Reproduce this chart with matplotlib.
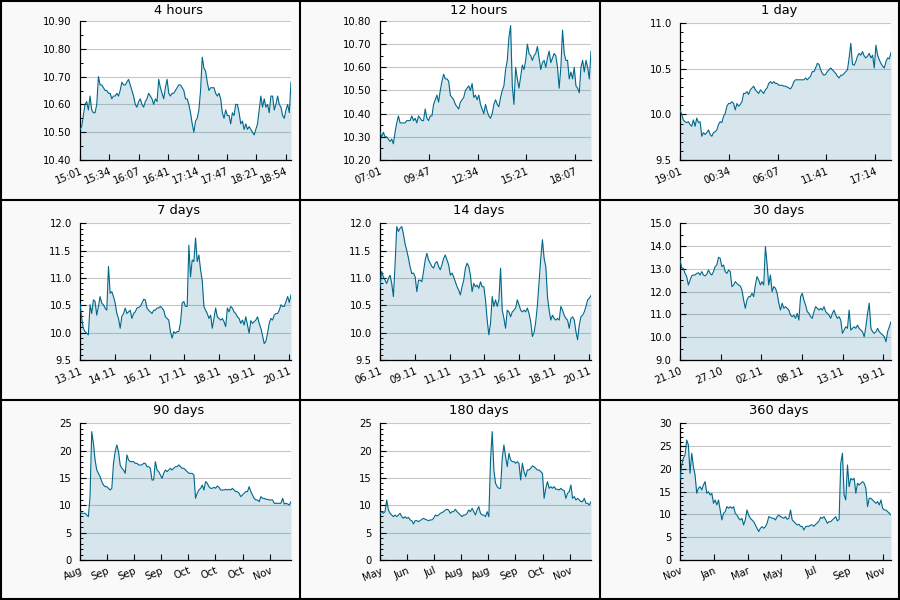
import numpy as np
import matplotlib
matplotlib.use('Agg')
import matplotlib.pyplot as plt
from matplotlib.lines import Line2D
from matplotlib.ticker import MultipleLocator, FormatStrFormatter

# price history, evenly sampled over each window
values_4h = [
    10.51, 10.52, 10.56, 10.60, 10.61, 10.58, 10.63, 10.58, 10.57, 10.57, 10.60, 10.70, 10.67, 10.67,
    10.66, 10.65, 10.65, 10.64, 10.64, 10.62, 10.63, 10.63, 10.64, 10.63, 10.65, 10.68, 10.67, 10.67,
    10.68, 10.69, 10.67, 10.65, 10.63, 10.60, 10.59, 10.61, 10.62, 10.60, 10.59, 10.61, 10.62, 10.64,
    10.63, 10.62, 10.60, 10.62, 10.61, 10.69, 10.66, 10.64, 10.62, 10.66, 10.69, 10.64, 10.63, 10.64,
    10.64, 10.65, 10.66, 10.67, 10.67, 10.66, 10.65, 10.62, 10.62, 10.60, 10.57, 10.53, 10.50, 10.54,
    10.55, 10.58, 10.65, 10.77, 10.73, 10.72, 10.68, 10.65, 10.66, 10.66, 10.66, 10.64, 10.63, 10.64,
    10.62, 10.57, 10.55, 10.58, 10.56, 10.56, 10.53, 10.57, 10.56, 10.60, 10.60, 10.57, 10.53, 10.54,
    10.51, 10.53, 10.51, 10.52, 10.51, 10.50, 10.49, 10.51, 10.53, 10.58, 10.63, 10.59, 10.62, 10.59,
    10.60, 10.57, 10.63, 10.63, 10.58, 10.60, 10.63, 10.60, 10.59, 10.56, 10.55, 10.58, 10.60, 10.57,
    10.68]
values_12h = [
    10.32, 10.30, 10.32, 10.30, 10.30, 10.29, 10.28, 10.29, 10.27, 10.32, 10.36, 10.39, 10.36, 10.36,
    10.36, 10.36, 10.37, 10.37, 10.37, 10.39, 10.37, 10.38, 10.36, 10.39, 10.38, 10.37, 10.37, 10.42,
    10.38, 10.37, 10.39, 10.39, 10.44, 10.46, 10.48, 10.45, 10.50, 10.54, 10.57, 10.55, 10.55, 10.54,
    10.48, 10.47, 10.46, 10.44, 10.43, 10.42, 10.45, 10.46, 10.47, 10.50, 10.51, 10.52, 10.50, 10.53,
    10.47, 10.48, 10.46, 10.48, 10.44, 10.42, 10.40, 10.44, 10.41, 10.39, 10.38, 10.40, 10.44, 10.46,
    10.44, 10.43, 10.47, 10.50, 10.52, 10.59, 10.63, 10.73, 10.78, 10.52, 10.44, 10.60, 10.55, 10.51,
    10.56, 10.61, 10.59, 10.63, 10.70, 10.66, 10.65, 10.63, 10.65, 10.66, 10.69, 10.64, 10.59, 10.62,
    10.63, 10.60, 10.64, 10.67, 10.62, 10.64, 10.66, 10.65, 10.60, 10.51, 10.60, 10.76, 10.66, 10.63,
    10.63, 10.55, 10.58, 10.55, 10.60, 10.52, 10.51, 10.49, 10.60, 10.63, 10.58, 10.63, 10.60, 10.55,
    10.67]
values_1d = [
    10.05, 10.00, 9.94, 9.92, 9.91, 9.92, 9.89, 9.87, 9.94, 9.87, 9.96, 9.91, 9.92, 9.76,
    9.80, 9.78, 9.80, 9.83, 9.78, 9.76, 9.80, 9.81, 9.83, 9.89, 9.92, 9.91, 9.98, 10.01,
    10.09, 10.12, 10.12, 10.14, 10.12, 10.05, 10.12, 10.09, 10.11, 10.14, 10.23, 10.23, 10.25, 10.22,
    10.27, 10.29, 10.31, 10.27, 10.25, 10.23, 10.27, 10.25, 10.23, 10.27, 10.29, 10.34, 10.36, 10.34,
    10.36, 10.34, 10.34, 10.32, 10.32, 10.32, 10.31, 10.31, 10.30, 10.29, 10.28, 10.31, 10.36, 10.38,
    10.38, 10.38, 10.38, 10.38, 10.38, 10.40, 10.38, 10.40, 10.42, 10.47, 10.47, 10.51, 10.56, 10.55,
    10.49, 10.45, 10.43, 10.44, 10.47, 10.49, 10.51, 10.49, 10.47, 10.45, 10.42, 10.40, 10.43, 10.43,
    10.45, 10.47, 10.49, 10.62, 10.78, 10.55, 10.54, 10.58, 10.64, 10.67, 10.65, 10.69, 10.64, 10.62,
    10.64, 10.67, 10.62, 10.65, 10.51, 10.76, 10.65, 10.60, 10.56, 10.53, 10.51, 10.58, 10.62, 10.61,
    10.68]
values_7d = [
    10.54, 10.26, 10.08, 10.02, 9.99, 9.96, 10.51, 10.35, 10.60, 10.57, 10.32, 10.48, 10.66, 10.54,
    10.51, 10.45, 10.41, 11.21, 10.72, 10.75, 10.66, 10.54, 10.35, 10.26, 10.08, 10.30, 10.35, 10.45,
    10.35, 10.38, 10.41, 10.26, 10.35, 10.38, 10.45, 10.46, 10.48, 10.54, 10.61, 10.60, 10.45, 10.41,
    10.38, 10.35, 10.41, 10.41, 10.45, 10.45, 10.48, 10.45, 10.41, 10.29, 10.26, 10.23, 10.02, 9.90,
    10.02, 9.99, 10.02, 10.02, 10.18, 10.54, 10.57, 10.48, 10.48, 11.60, 11.02, 11.33, 11.30, 11.73,
    11.30, 11.42, 11.15, 10.95, 10.48, 10.41, 10.35, 10.26, 10.32, 10.08, 10.26, 10.45, 10.29, 10.26,
    10.23, 10.26, 10.20, 10.11, 10.45, 10.38, 10.48, 10.45, 10.38, 10.35, 10.29, 10.26, 10.17, 10.23,
    10.14, 10.29, 10.14, 9.99, 10.22, 10.17, 10.20, 10.23, 10.29, 10.17, 10.08, 9.95, 9.80, 9.84,
    9.99, 10.17, 10.26, 10.23, 10.32, 10.35, 10.35, 10.41, 10.51, 10.48, 10.48, 10.57, 10.66, 10.55,
    10.69]
values_14d = [
    10.84, 11.12, 11.02, 10.96, 10.90, 10.99, 11.05, 10.90, 10.66, 11.24, 11.94, 11.85, 11.91, 11.94,
    11.80, 11.62, 11.50, 11.36, 11.20, 11.08, 11.09, 11.02, 10.75, 10.96, 10.96, 10.93, 11.12, 11.33,
    11.45, 11.33, 11.27, 11.21, 11.18, 11.27, 11.30, 11.21, 11.15, 11.24, 11.36, 11.42, 11.33, 11.24,
    11.05, 11.09, 11.02, 10.93, 10.84, 10.78, 10.69, 10.84, 10.96, 11.18, 11.27, 11.21, 11.05, 10.75,
    10.90, 10.84, 10.87, 10.81, 10.93, 10.84, 10.84, 10.60, 10.23, 9.96, 10.17, 10.66, 10.48, 10.60,
    10.48, 10.60, 11.18, 10.41, 10.26, 10.08, 10.41, 10.38, 10.29, 10.38, 10.41, 10.45, 10.60, 10.51,
    10.41, 10.38, 10.41, 10.38, 10.45, 10.35, 10.20, 9.93, 10.00, 10.20, 10.50, 10.93, 11.36, 11.70,
    11.36, 11.21, 10.66, 10.41, 10.23, 10.32, 10.26, 10.23, 10.26, 10.23, 10.48, 10.41, 10.32, 10.26,
    10.23, 10.08, 10.26, 10.29, 10.23, 10.02, 9.87, 10.14, 10.29, 10.32, 10.38, 10.48, 10.60, 10.63,
    10.68]
values_30d = [
    13.39, 13.05, 13.02, 12.80, 12.66, 12.29, 12.50, 12.70, 12.73, 12.73, 12.80, 12.83, 12.73, 12.88,
    12.73, 12.69, 12.77, 12.95, 12.80, 12.73, 12.88, 13.10, 13.17, 13.51, 13.46, 13.10, 13.17, 12.88,
    12.80, 12.95, 12.88, 12.22, 12.29, 12.44, 12.36, 12.29, 12.25, 12.07, 11.63, 11.27, 11.63, 11.78,
    11.78, 11.93, 11.78, 12.29, 12.66, 12.51, 12.29, 12.44, 12.29, 13.98, 13.20, 12.29, 12.73, 12.00,
    12.22, 12.15, 11.93, 11.49, 11.19, 11.49, 11.27, 11.34, 11.27, 11.19, 10.97, 10.90, 10.97, 10.83,
    11.05, 10.75, 11.78, 11.93, 11.63, 11.41, 11.12, 11.05, 10.90, 10.83, 11.12, 11.34, 11.27, 11.19,
    11.27, 11.19, 11.34, 11.12, 11.05, 10.97, 10.83, 11.05, 11.19, 10.97, 10.83, 10.90, 10.75, 10.17,
    10.31, 10.46, 10.39, 11.19, 10.31, 10.39, 10.46, 10.39, 10.53, 10.39, 10.31, 10.24, 10.02, 10.46,
    11.05, 11.49, 10.39, 10.24, 10.17, 10.24, 10.39, 10.24, 10.17, 10.10, 10.02, 9.80, 10.25, 10.45,
    10.68]
values_90d = [
    8.84, 8.54, 8.54, 8.54, 8.23, 7.93, 11.59, 23.48, 21.34, 18.29, 16.46, 15.85, 15.24, 14.33,
    13.72, 13.41, 13.41, 13.11, 12.80, 13.11, 17.68, 19.82, 21.04, 19.82, 17.38, 16.77, 16.46, 15.85,
    19.21, 18.29, 17.99, 17.99, 17.99, 17.68, 17.68, 17.38, 17.38, 17.38, 17.68, 17.68, 17.07, 17.07,
    16.77, 14.63, 14.63, 17.99, 16.46, 16.16, 15.55, 14.94, 15.85, 16.46, 16.16, 16.46, 16.77, 16.46,
    16.77, 17.07, 17.07, 17.38, 17.07, 16.77, 16.77, 16.46, 16.16, 15.85, 15.85, 15.85, 15.55, 11.28,
    12.20, 12.80, 13.11, 13.72, 12.80, 14.33, 14.02, 13.41, 13.11, 13.11, 13.29, 13.11, 13.54, 13.29,
    12.80, 12.80, 12.80, 12.93, 12.80, 12.93, 12.80, 13.11, 12.80, 12.50, 12.50, 12.20, 11.59, 11.89,
    12.20, 12.50, 12.50, 13.41, 12.50, 11.89, 11.28, 10.98, 10.98, 10.67, 11.59, 11.28, 11.28, 11.10,
    11.10, 10.98, 10.98, 10.98, 10.37, 10.37, 10.37, 10.37, 10.37, 11.28, 10.24, 10.37, 10.24, 10.06,
    10.67]
values_180d = [
    8.54, 8.84, 8.54, 8.84, 10.98, 9.15, 8.54, 8.23, 7.93, 8.23, 7.93, 8.23, 8.54, 7.93,
    7.62, 7.93, 7.62, 7.80, 7.32, 7.20, 6.59, 7.20, 7.20, 7.01, 7.20, 7.44, 7.62, 7.44,
    7.32, 7.20, 7.32, 7.32, 7.62, 8.23, 8.05, 8.23, 8.54, 8.66, 8.84, 9.15, 9.27, 9.15,
    8.54, 8.84, 8.84, 9.27, 8.84, 8.54, 8.23, 7.93, 8.23, 8.23, 8.54, 9.15, 8.84, 9.45,
    8.84, 8.23, 9.15, 9.76, 8.54, 8.23, 8.23, 7.93, 8.84, 7.93, 18.29, 23.48, 16.46, 14.02,
    13.41, 13.11, 13.11, 18.60, 21.04, 18.90, 17.07, 19.51, 18.29, 17.99, 17.99, 17.68, 17.99, 17.68,
    14.63, 17.68, 16.16, 15.24, 16.46, 16.46, 16.77, 17.20, 17.07, 16.77, 16.46, 16.46, 16.16, 15.85,
    11.28, 13.11, 14.33, 13.11, 13.41, 13.11, 13.41, 12.93, 12.93, 12.80, 13.11, 12.80, 12.68, 11.28,
    12.20, 12.50, 13.72, 11.28, 11.59, 10.98, 11.28, 10.98, 10.67, 10.67, 11.28, 10.37, 10.37, 10.06,
    10.67]
values_360d = [
    17.56, 20.86, 22.32, 23.05, 26.34, 25.24, 19.03, 23.42, 20.49, 18.66, 14.64, 15.73, 16.10, 15.37,
    16.46, 17.19, 14.64, 15.00, 14.27, 14.64, 12.44, 13.17, 12.08, 13.17, 10.98, 8.79, 10.25, 10.61,
    11.71, 11.35, 11.71, 11.35, 11.71, 10.25, 9.88, 9.15, 8.79, 9.15, 7.69, 8.79, 10.98, 9.88,
    9.15, 8.79, 8.42, 7.69, 6.96, 6.23, 6.96, 7.32, 6.96, 7.32, 8.05, 9.52, 9.37, 9.15,
    9.15, 8.79, 9.52, 9.88, 9.52, 9.37, 9.15, 9.52, 8.93, 9.15, 10.98, 8.79, 8.42, 8.05,
    7.69, 7.83, 7.39, 7.32, 6.59, 7.32, 7.39, 7.39, 7.69, 7.69, 7.39, 7.83, 8.12, 8.57,
    9.37, 9.15, 9.52, 8.79, 8.05, 8.42, 8.42, 8.79, 9.15, 9.52, 8.57, 8.93, 21.22, 23.42,
    14.27, 13.17, 20.86, 16.10, 17.93, 17.56, 17.93, 14.64, 16.83, 16.46, 16.83, 17.19, 16.83, 15.73,
    11.71, 13.54, 13.54, 13.17, 12.81, 12.44, 12.81, 12.08, 13.17, 11.35, 10.98, 10.98, 10.61, 10.25,
    9.88]

series = [values_4h, values_12h, values_1d, values_7d, values_14d,
          values_30d, values_90d, values_180d, values_360d]
titles = ['4 hours', '12 hours', '1 day', '7 days', '14 days', '30 days',
          '90 days', '180 days', '360 days']
span_hours = [4, 12, 24, 168, 336, 720, 2160, 4320, 8640]
tick_step_hours = [0.557, 2.777, 5.554, 27.7, 55.4, 138.8, 277.4, 554.8, 1385]
tick_labels = [
    ['15:01', '15:34', '16:07', '16:41', '17:14', '17:47', '18:21', '18:54'],
    ['07:01', '09:47', '12:34', '15:21', '18:07'],
    ['19:01', '00:34', '06:07', '11:41', '17:14'],
    ['13.11', '14.11', '16.11', '17.11', '18.11', '19.11', '20.11'],
    ['06.11', '09.11', '11.11', '13.11', '16.11', '18.11', '20.11'],
    ['21.10', '27.10', '02.11', '08.11', '13.11', '19.11'],
    ['Aug', 'Sep', 'Sep', 'Sep', 'Oct', 'Oct', 'Oct', 'Nov'],
    ['May', 'Jun', 'Jul', 'Aug', 'Aug', 'Sep', 'Oct', 'Nov'],
    ['Nov', 'Jan', 'Mar', 'May', 'Jul', 'Sep', 'Nov'],
]
y_limits = [(10.4, 10.9), (10.2, 10.8), (9.5, 11.0), (9.5, 12.0), (9.5, 12.0),
            (9.0, 15.0), (0, 25), (0, 25), (0, 30)]
y_major = [0.1, 0.1, 0.5, 0.5, 0.5, 1.0, 5, 5, 5]
y_minor = [0.05, 0.05, 0.1, 0.1, 0.1, 0.5, 1, 1, 1]
y_fmt = ['%.2f', '%.2f', '%.1f', '%.1f', '%.1f', '%.1f', '%d', '%d', '%d']

LINE = '#00688b'
W, H = 900, 600

fig = plt.figure(figsize=(9, 6), dpi=100, facecolor='#f9f9f9')

for i in range(9):
    r, c = divmod(i, 3)
    top = 21 if i < 2 else 23.3
    x0, y0 = c * 300, r * 200
    ax = fig.add_axes([(x0 + 80) / W, 1 - (y0 + 160) / H, 211 / W, (160 - top) / H])

    vals = series[i]
    x = np.linspace(0, span_hours[i], len(vals))
    lo, hi = y_limits[i]
    # translucent fill lets the grid show through, slightly darker
    ax.fill_between(x, vals, lo, color=LINE, alpha=0.16, lw=0, zorder=2)
    ax.plot(x, vals, color=LINE, lw=0.8, zorder=3)

    ax.set_xlim(0, span_hours[i])
    ax.set_ylim(lo, hi)
    ax.yaxis.set_major_locator(MultipleLocator(y_major[i]))
    ax.yaxis.set_minor_locator(MultipleLocator(y_minor[i]))
    ax.yaxis.set_major_formatter(FormatStrFormatter(y_fmt[i]))
    ax.set_xticks(np.arange(len(tick_labels[i])) * tick_step_hours[i])
    ax.set_xticklabels(tick_labels[i], rotation=22, ha='right', rotation_mode='anchor')

    ax.set_axisbelow(True)
    ax.grid(axis='y', color='#c8c8c8', lw=0.8)
    for s in ['top', 'right']:
        ax.spines[s].set_visible(False)
    for s in ['left', 'bottom']:
        ax.spines[s].set_linewidth(0.9)
    ax.tick_params(axis='y', which='major', direction='in', length=4.3, width=0.8,
                   labelsize=7.2, pad=6, colors='black')
    ax.tick_params(axis='y', which='minor', direction='in', length=2.2, width=0.7)
    ax.tick_params(axis='x', direction='in', length=4.3, width=0.8, labelsize=7.2, pad=4)

    fig.text((x0 + 179) / W, 1 - (y0 + 10.5) / H, titles[i],
             ha='center', va='center', fontsize=9.4)

# black frame around every panel
for px in [1, 300, 600, 899]:
    fig.add_artist(Line2D([px / W, px / W], [0, 1], color='black', lw=1.5,
                          transform=fig.transFigure))
for py in [1, 200, 400, 599]:
    fig.add_artist(Line2D([0, 1], [1 - py / H, 1 - py / H], color='black', lw=1.5,
                          transform=fig.transFigure))

fig.savefig('out.png', dpi=100, facecolor=fig.get_facecolor())
